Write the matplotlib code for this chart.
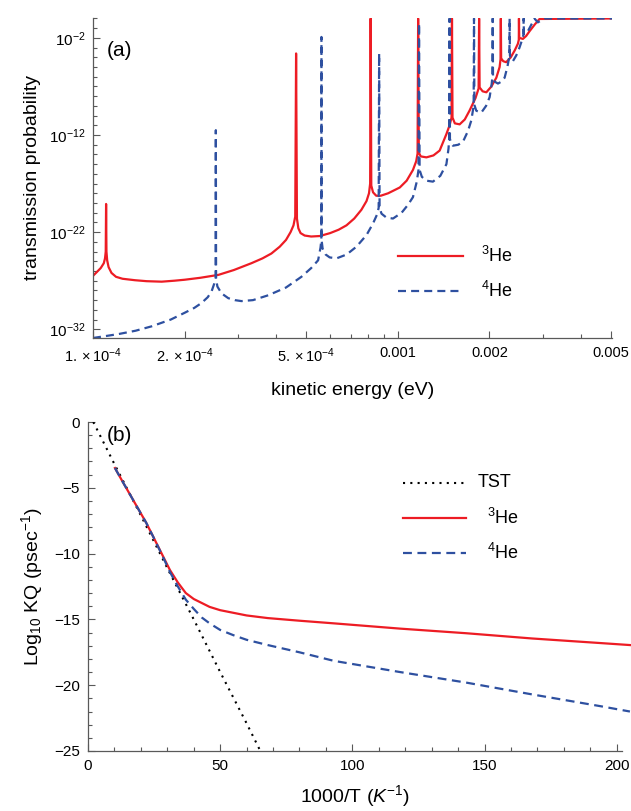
import numpy as np
import matplotlib
matplotlib.use("Agg")
import matplotlib.pyplot as plt
from matplotlib.ticker import FixedLocator, FixedFormatter, NullFormatter

plt.rcParams['font.family'] = ['Liberation Sans', 'DejaVu Sans']
plt.rcParams['mathtext.fontset'] = 'custom'
plt.rcParams['mathtext.rm'] = 'Liberation Sans'
plt.rcParams['mathtext.it'] = 'Liberation Sans:italic'

RED = '#ED1C24'
BLUE = '#2E50A0'
AXC = '0.35'

# ---- panel (a): transmission probability vs kinetic energy (eV), log10 T ----
e_he3 = [1.00e-4, 1.03e-4, 1.06e-4, 1.085e-4, 1.095e-4, 1.101e-4, 1.104e-4, 1.107e-4,
         1.113e-4, 1.125e-4, 1.15e-4, 1.19e-4, 1.25e-4, 1.373e-4, 1.5e-4, 1.68e-4,
         1.85e-4, 2.0e-4, 2.25e-4, 2.58e-4, 2.9e-4, 3.31e-4, 3.6e-4, 3.85e-4,
         4.1e-4, 4.3e-4, 4.45e-4, 4.55e-4, 4.61e-4, 4.64e-4, 4.67e-4, 4.72e-4,
         4.80e-4, 4.95e-4, 5.2e-4, 5.55e-4, 6.0e-4, 6.4e-4, 6.79e-4, 7.2e-4,
         7.6e-4, 7.9e-4, 8.05e-4, 8.12e-4, 8.15e-4, 8.19e-4, 8.3e-4, 8.5e-4,
         8.8e-4, 9.3e-4, 1.016e-3, 1.07e-3, 1.122e-3, 1.15e-3, 1.162e-3, 1.167e-3,
         1.173e-3, 1.19e-3, 1.242e-3, 1.31e-3, 1.373e-3, 1.445e-3, 1.48e-3, 1.502e-3,
         1.507e-3, 1.513e-3, 1.54e-3, 1.597e-3, 1.66e-3, 1.72e-3, 1.80e-3, 1.843e-3,
         1.85e-3, 1.857e-3, 1.90e-3, 1.954e-3, 2.03e-3, 2.107e-3, 2.16e-3, 2.175e-3,
         2.18e-3, 2.185e-3, 2.22e-3, 2.27e-3, 2.35e-3, 2.42e-3, 2.48e-3, 2.497e-3,
         2.50e-3, 2.505e-3, 2.576e-3, 2.64e-3, 2.71e-3, 2.82e-3, 2.92e-3, 5.05e-3]
logt_he3 = [-26.5, -26.1, -25.7, -25.2, -24.7, -24.0, -19.1, -24.0,
            -24.9, -25.6, -26.2, -26.6, -26.8, -26.95, -27.05, -27.1,
            -27.0, -26.9, -26.7, -26.4, -25.9, -25.2, -24.7, -24.2,
            -23.5, -22.8, -22.0, -21.3, -20.4, -3.6, -20.6, -21.6,
            -22.1, -22.35, -22.45, -22.4, -22.1, -21.75, -21.3, -20.6,
            -19.7, -18.8, -18.0, -17.0, 0.0, -17.2, -17.9, -18.25,
            -18.25, -18.0, -17.4, -16.7, -15.6, -14.7, -13.9, 0.0,
            -13.8, -14.2, -14.3, -14.1, -13.6, -11.9, -11.0, -10.2,
            0.0, -10.2, -10.8, -10.9, -10.4, -9.5, -8.2, -7.2,
            0.0, -7.1, -7.5, -7.6, -7.0, -6.1, -5.0, -4.2,
            0.0, -4.1, -4.4, -4.5, -4.0, -3.3, -2.6, -2.2,
            0.0, -2.0, -2.1, -1.8, -1.3, -0.6, -0.05, 0.0]

e_he4 = [1.0e-4, 1.1e-4, 1.21e-4, 1.38e-4, 1.557e-4, 1.8e-4, 2.0e-4, 2.15e-4,
         2.27e-4, 2.38e-4, 2.45e-4, 2.50e-4, 2.525e-4, 2.53e-4, 2.535e-4, 2.56e-4,
         2.64e-4, 2.78e-4, 2.92e-4, 3.07e-4, 3.35e-4, 3.76e-4, 4.3e-4, 4.83e-4,
         5.2e-4, 5.48e-4, 5.58e-4, 5.615e-4, 5.62e-4, 5.625e-4, 5.67e-4, 5.80e-4,
         5.98e-4, 6.30e-4, 6.8e-4, 7.32e-4, 7.9e-4, 8.30e-4, 8.55e-4, 8.66e-4,
         8.69e-4, 8.72e-4, 8.85e-4, 9.18e-4, 9.65e-4, 1.03e-3, 1.08e-3, 1.122e-3,
         1.155e-3, 1.170e-3, 1.175e-3, 1.180e-3, 1.20e-3, 1.242e-3, 1.305e-3, 1.38e-3,
         1.445e-3, 1.468e-3, 1.476e-3, 1.48e-3, 1.484e-3, 1.50e-3, 1.518e-3, 1.58e-3,
         1.637e-3, 1.70e-3, 1.744e-3, 1.775e-3, 1.78e-3, 1.785e-3, 1.811e-3, 1.88e-3,
         1.95e-3, 2.003e-3, 2.035e-3, 2.045e-3, 2.05e-3, 2.055e-3, 2.08e-3, 2.133e-3,
         2.19e-3, 2.243e-3, 2.29e-3, 2.325e-3, 2.33e-3, 2.335e-3, 2.36e-3, 2.388e-3,
         2.45e-3, 2.51e-3, 2.56e-3, 2.585e-3, 2.59e-3, 2.595e-3, 2.675e-3, 2.76e-3,
         2.81e-3, 2.884e-3, 3.03e-3, 5.05e-3]
logt_he4 = [-32.9, -32.7, -32.5, -32.15, -31.7, -31.0, -30.3, -29.8,
            -29.3, -28.7, -28.1, -27.3, -26.8, -11.5, -26.8, -27.6,
            -28.3, -28.8, -29.0, -29.1, -29.0, -28.5, -27.7, -26.6,
            -25.7, -24.9, -23.6, -22.8, -1.9, -22.8, -23.7, -24.3,
            -24.6, -24.7, -24.3, -23.5, -22.3, -21.1, -20.2, -19.5,
            -3.6, -19.5, -20.1, -20.5, -20.6, -20.0, -19.2, -18.4,
            -16.8, -15.6, -0.5, -15.6, -16.3, -16.7, -16.8, -16.2,
            -15.0, -13.4, -12.4, 0.0, -12.4, -12.9, -13.1, -13.0,
            -12.7, -11.6, -10.5, -9.0, 0.0, -8.9, -9.5, -9.7,
            -9.0, -8.1, -6.7, -6.0, 0.0, -6.0, -6.5, -6.7,
            -6.5, -6.1, -5.0, -3.9, 0.0, -3.8, -4.3, -4.4,
            -3.8, -3.0, -2.2, -1.7, 0.0, -1.6, -1.3, -0.5,
            0.0, -0.4, 0.0, 0.0]

xa_ticks = [1e-4, 2e-4, 5e-4, 1e-3, 2e-3, 5e-3]
xa_labels = [r'$\mathregular{1.\times10^{-4}}$', r'$\mathregular{2.\times10^{-4}}$',
             r'$\mathregular{5.\times10^{-4}}$', '0.001', '0.002', '0.005']
xa_minor = [3e-4, 4e-4, 6e-4, 7e-4, 8e-4, 9e-4, 3e-3, 4e-3]
ya_exp = [-2, -12, -22, -32]

# ---- panel (b): Log10 KQ vs 1000/T ----
x_tst = [2.0, 10, 20, 30, 40, 50, 60, 65.2]
y_tst = [0.0, -3.2, -7.1, -11.1, -15.0, -19.0, -22.9, -25.0]

x_b = [10.2, 13, 16, 19, 22, 25, 28, 31, 34, 37, 40, 43, 46, 50, 55, 60, 68, 80,
       93, 118, 143, 168, 194, 205]
y_he3 = [-3.5, -4.5, -5.55, -6.6, -7.65, -8.85, -10.05, -11.25, -12.2, -13.0, -13.45,
         -13.75, -14.05, -14.3, -14.5, -14.7, -14.9, -15.1, -15.3, -15.7, -16.05,
         -16.45, -16.8, -16.95]
y_he4 = [-3.5, -4.5, -5.55, -6.6, -7.65, -8.85, -10.1, -11.4, -12.5, -13.5, -14.2,
         -14.85, -15.3, -15.8, -16.2, -16.55, -16.95, -17.5, -18.15, -19.0, -19.8,
         -20.7, -21.6, -22.0]

fig = plt.figure(figsize=(6.31, 8.11), dpi=100)


def style_axes(ax):
    for s in ['top', 'right']:
        ax.spines[s].set_visible(False)
    for s in ['left', 'bottom']:
        ax.spines[s].set_color(AXC)
        ax.spines[s].set_linewidth(0.9)
    ax.tick_params(which='both', direction='in', color=AXC, width=0.8)
    ax.tick_params(which='major', length=5)
    ax.tick_params(which='minor', length=3)


# panel (a)
axa = fig.add_axes([93 / 631, 1 - 338 / 811, 519 / 631, 320 / 811])
axa.plot(e_he3, 10.0 ** np.array(logt_he3), color=RED, lw=1.6)
axa.plot(e_he4, 10.0 ** np.array(logt_he4), color=BLUE, lw=1.6, ls=(0, (3.6, 2.3)))
axa.set_xscale('log')
axa.set_yscale('log')
axa.set_xlim(1e-4, 5.05e-3)
axa.set_ylim(10 ** -32.9, 10 ** 0.05)
style_axes(axa)
axa.xaxis.set_major_locator(FixedLocator(xa_ticks))
axa.xaxis.set_major_formatter(FixedFormatter(xa_labels))
axa.xaxis.set_minor_locator(FixedLocator(xa_minor))
axa.xaxis.set_minor_formatter(NullFormatter())
axa.yaxis.set_major_locator(FixedLocator([10.0 ** k for k in ya_exp]))
axa.yaxis.set_major_formatter(FixedFormatter([r'$\mathregular{10^{%d}}$' % k for k in ya_exp]))
axa.yaxis.set_minor_locator(FixedLocator([10.0 ** k for k in range(-33, 1)]))
axa.yaxis.set_minor_formatter(NullFormatter())
axa.tick_params(axis='x', labelsize=10.5, pad=6)
axa.tick_params(axis='y', labelsize=11, pad=5)
axa.set_xlabel('kinetic energy (eV)', fontsize=14, labelpad=12)
axa.set_ylabel('transmission probability', fontsize=14, labelpad=6)
axa.text(0.027, 0.90, '(a)', transform=axa.transAxes, fontsize=15, va='center')

axa.plot([0.588, 0.713], [0.256, 0.256], transform=axa.transAxes, color=RED, lw=1.6)
axa.plot([0.588, 0.713], [0.147, 0.147], transform=axa.transAxes, color=BLUE, lw=1.6,
         ls=(0, (3.6, 2.3)))
axa.text(0.748, 0.256, r'$\mathregular{^3}$He', transform=axa.transAxes, fontsize=13, va='center')
axa.text(0.748, 0.147, r'$\mathregular{^4}$He', transform=axa.transAxes, fontsize=13, va='center')

# panel (b)
axb = fig.add_axes([88 / 631, 1 - 751 / 811, 534 / 631, 329 / 811])
axb.plot(x_tst, y_tst, color='black', lw=1.5, ls=(0, (1, 2.5)))
axb.plot(x_b, y_he3, color=RED, lw=1.6, clip_on=False)
axb.plot(x_b, y_he4, color=BLUE, lw=1.6, ls=(0, (4, 2.5)), clip_on=False)
axb.set_xlim(0, 202)
axb.set_ylim(-25, 0)
style_axes(axb)
axb.set_xticks([0, 50, 100, 150, 200])
axb.set_xticks(np.arange(0, 201, 10), minor=True)
axb.set_yticks([0, -5, -10, -15, -20, -25])
axb.set_yticks(np.arange(-25, 1, 1), minor=True)
axb.tick_params(labelsize=11, pad=6)
axb.set_xlabel(r'1000/T ($K^{-1}$)', fontsize=14, labelpad=7)
axb.set_ylabel(r'Log$\mathregular{_{10}}$ KQ (psec$\mathregular{^{-1}}$)', fontsize=14, labelpad=6)
axb.text(0.036, 0.96, '(b)', transform=axb.transAxes, fontsize=15, va='center')

axb.plot([0.59, 0.708], [0.815, 0.815], transform=axb.transAxes, color='black', lw=1.5,
         ls=(0, (1, 2.5)))
axb.plot([0.59, 0.708], [0.708, 0.708], transform=axb.transAxes, color=RED, lw=1.6)
axb.plot([0.59, 0.708], [0.602, 0.602], transform=axb.transAxes, color=BLUE, lw=1.6,
         ls=(0, (4, 2.5)))
axb.text(0.730, 0.815, 'TST', transform=axb.transAxes, fontsize=13, va='center')
axb.text(0.747, 0.708, r'$\mathregular{^3}$He', transform=axb.transAxes, fontsize=13, va='center')
axb.text(0.747, 0.602, r'$\mathregular{^4}$He', transform=axb.transAxes, fontsize=13, va='center')

fig.savefig('out.png', dpi=100)
